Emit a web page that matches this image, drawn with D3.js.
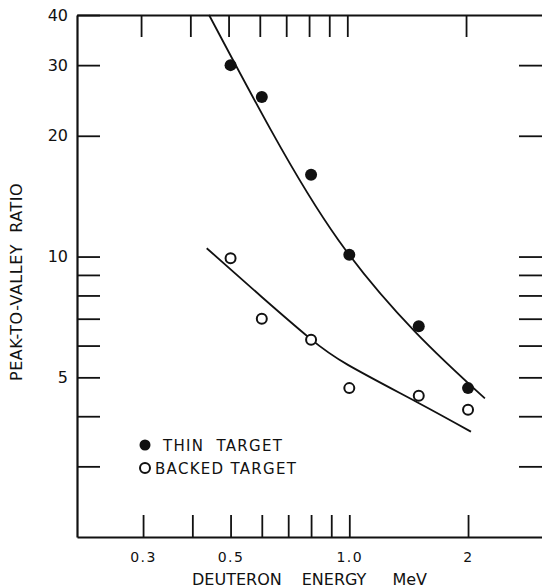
<!DOCTYPE html>
<html>
<head>
<meta charset="utf-8">
<script src="https://cdn.jsdelivr.net/npm/d3@7/dist/d3.min.js"></script>
<style>
  body { margin: 0; background: #fff; }
  text { font-family: "DejaVu Sans", sans-serif; fill: #111; }
  .axis path, .axis line { stroke: #111; }
</style>
</head>
<body>
<div id="chart"></div>
<script>
// measured points (deuteron energy in MeV, peak-to-valley ratio)
const energyThin = [0.5, 0.6, 0.8, 1.0, 1.5, 2.0];
const ratioThin = [30, 25, 16, 10.1, 6.7, 4.7];
const energyBacked = [0.5, 0.6, 0.8, 1.0, 1.5, 2.0];
const ratioBacked = [9.9, 7.0, 6.2, 4.7, 4.5, 4.15];

// hand drawn curves
const curveThinE = [0.441, 0.634, 0.938, 1.467, 2.207];
const curveThinR = [40, 20.6, 11.0, 6.5, 4.43];
const curveBackedE = [0.435, 0.6, 0.792, 0.992, 1.482, 2.034];
const curveBackedR = [10.49, 7.93, 6.27, 5.37, 4.34, 3.66];

// ticks
const xTicks = [0.3, 0.4, 0.5, 0.6, 0.7, 0.8, 0.9, 1.0, 2];
const xTickLabels = { 0.3: '0.3', 0.5: '0.5', 1: '1.0', 2: '2' };
const yTicks = [3, 4, 5, 6, 7, 8, 9, 10, 20, 30, 40];
const yTickLabels = { 5: '5', 10: '10', 20: '20', 30: '30', 40: '40' };

const width = 542, height = 588;
const mLeft = 77, mRight = 542, mTop = 15, mBottom = 537;

const svg = d3.select('#chart').append('svg')
    .attr('width', width)
    .attr('height', height);

const x = d3.scaleLog().domain([0.204, 3.08]).range([mLeft, mRight]);
const y = d3.scaleLog().domain([2, 40]).range([mBottom, mTop]);

// bottom axis, ticks point inward
svg.append('g')
    .attr('class', 'axis')
    .attr('transform', `translate(0,${mBottom})`)
    .call(d3.axisBottom(x).tickValues(xTicks).tickSize(-22).tickSizeOuter(0).tickPadding(15)
        .tickFormat(d => xTickLabels[d] || ''))
    .call(g => g.select('.domain').attr('stroke-width', 2.2))
    .call(g => g.selectAll('.tick line').attr('stroke-width', 1.8))
    .call(g => g.selectAll('text').attr('font-size', 14).attr('letter-spacing', 1.5)
        .attr('fill', '#111'));

// top axis
svg.append('g')
    .attr('class', 'axis')
    .attr('transform', `translate(-2,${mTop})`)
    .call(d3.axisTop(x).tickValues(xTicks).tickSize(-22).tickSizeOuter(0).tickFormat(''))
    .call(g => g.select('.domain').attr('stroke-width', 2.2).attr('transform', 'translate(2,0)'))
    .call(g => g.selectAll('.tick line').attr('stroke-width', 1.8));

// left axis
svg.append('g')
    .attr('class', 'axis')
    .attr('transform', `translate(${mLeft},0)`)
    .call(d3.axisLeft(y).tickValues(yTicks).tickSize(-23).tickSizeOuter(0).tickPadding(9)
        .tickFormat(d => yTickLabels[d] || ''))
    .call(g => g.select('.domain').attr('stroke-width', 2.2))
    .call(g => g.selectAll('.tick line').attr('stroke-width', 1.8))
    .call(g => g.selectAll('text').attr('font-size', 16).attr('fill', '#111'));

// right side: ticks only, no axis line
svg.append('g')
    .attr('class', 'axis')
    .attr('transform', `translate(${mRight},0)`)
    .call(d3.axisRight(y).tickValues(yTicks.filter(d => d < 40)).tickSize(-23).tickFormat(''))
    .call(g => g.select('.domain').remove())
    .call(g => g.selectAll('.tick line').attr('stroke-width', 1.8));

// fitted curves
const line = d3.line()
    .x(d => x(d[0]))
    .y(d => y(d[1]))
    .curve(d3.curveNatural);

svg.append('path')
    .datum(curveThinE.map((e, i) => [e, curveThinR[i]]))
    .attr('d', line)
    .attr('fill', 'none')
    .attr('stroke', '#111')
    .attr('stroke-width', 1.8);

svg.append('path')
    .datum(curveBackedE.map((e, i) => [e, curveBackedR[i]]))
    .attr('d', line)
    .attr('fill', 'none')
    .attr('stroke', '#111')
    .attr('stroke-width', 1.8);

// points
svg.selectAll('.thin')
    .data(energyThin.map((e, i) => [e, ratioThin[i]]))
    .enter().append('circle')
    .attr('class', 'thin')
    .attr('cx', d => x(d[0]))
    .attr('cy', d => y(d[1]))
    .attr('r', 6)
    .attr('fill', '#111');

svg.selectAll('.backed')
    .data(energyBacked.map((e, i) => [e, ratioBacked[i]]))
    .enter().append('circle')
    .attr('class', 'backed')
    .attr('cx', d => x(d[0]))
    .attr('cy', d => y(d[1]))
    .attr('r', 5)
    .attr('fill', '#fff')
    .attr('stroke', '#111')
    .attr('stroke-width', 2);

// legend
const legend = svg.append('g').attr('transform', 'translate(145,445)');
legend.append('circle').attr('r', 5.5).attr('fill', '#111');
legend.append('text').attr('x', 18).attr('y', 6)
    .attr('font-size', 15).attr('letter-spacing', 1.3)
    .style('white-space', 'pre').text('THIN  TARGET');
legend.append('circle').attr('cy', 23).attr('r', 5).attr('fill', '#fff')
    .attr('stroke', '#111').attr('stroke-width', 2);
legend.append('text').attr('x', 10).attr('y', 29)
    .attr('font-size', 15).attr('letter-spacing', 1.3)
    .text('BACKED TARGET');

// axis titles
const xTitle = svg.append('text')
    .attr('x', 192).attr('y', 585)
    .attr('font-size', 16);
xTitle.append('tspan').text('DEUTERON');
xTitle.append('tspan').attr('dx', 20).text('ENERGY');
xTitle.append('tspan').attr('dx', 26).text('MeV');

svg.append('text')
    .attr('transform', 'translate(22,282) rotate(-90)')
    .attr('text-anchor', 'middle')
    .attr('font-size', 16)
    .attr('letter-spacing', 0.5)
    .style('white-space', 'pre')
    .text('PEAK-TO-VALLEY  RATIO');
</script>
</body>
</html>
